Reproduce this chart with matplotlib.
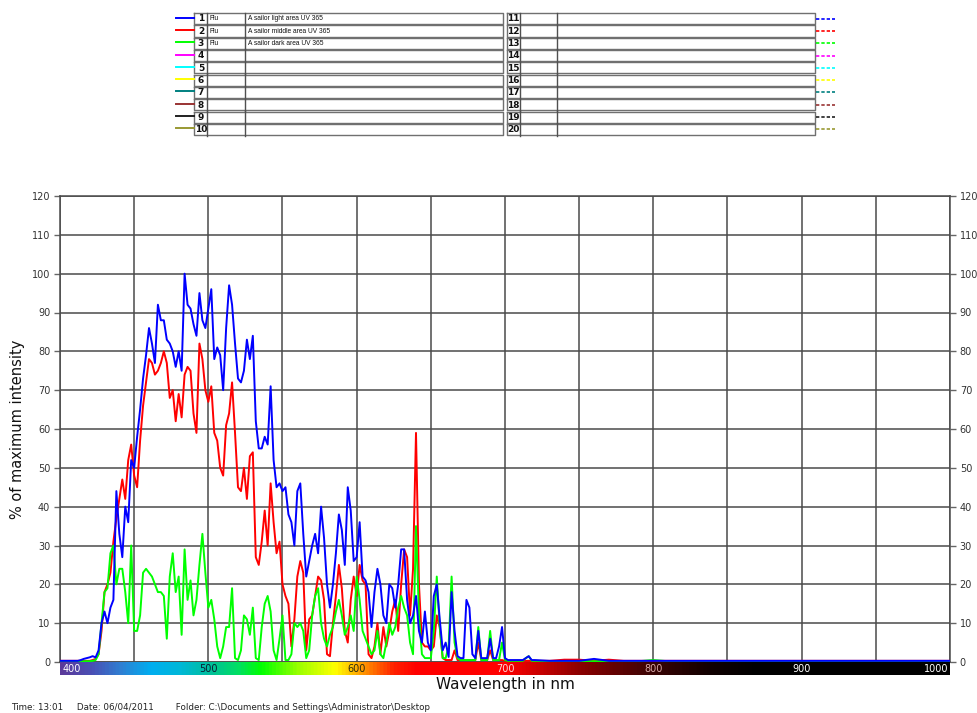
import numpy as np
import matplotlib
matplotlib.use("Agg")
import matplotlib.pyplot as plt
from matplotlib.colors import LinearSegmentedColormap

# ---------------- data ----------------
wavelength = np.arange(400, 721, 2)

light = [0.3, 0.3, 0.3, 0.3, 0.3,
         0.3, 0.3, 0.5, 0.8, 1.0,
         1.2, 1.5, 1.2, 3, 10,
         13, 10, 14, 16, 44,
         33, 27, 40, 36, 52,
         50, 58, 65, 73, 79,
         86, 82, 77, 92, 88,
         88, 83, 82, 80, 76,
         80, 75, 100, 92, 91,
         87, 84, 95, 88, 86,
         91, 96, 78, 81, 79,
         70, 86, 97, 92, 82,
         73, 72, 75, 83, 78,
         84, 62, 55, 55, 58,
         56, 71, 52, 45, 46,
         44, 45, 38, 36, 30,
         44, 46, 33, 22, 26,
         30, 33, 28, 40, 32,
         20, 14, 20, 28, 38,
         34, 25, 45, 39, 26,
         27, 36, 22, 21, 18,
         9, 18, 24, 20, 12,
         10, 20, 19, 14, 20,
         29, 29, 16, 10, 12,
         17, 8, 5, 13, 5,
         3, 17, 20, 11, 3,
         5, 1.3, 18, 8, 1.5,
         1, 1, 16, 14, 2,
         1, 8, 1, 1, 1,
         6, 1, 1, 4, 9,
         1, 0.5, 0.5, 0.5, 0.5,
         0.5, 0.5, 1, 1.5, 0.5,
         0.5]

middle = [0.3, 0.3, 0.3, 0.3, 0.3,
          0.3, 0.3, 0.3, 0.3, 0.3,
          0.3, 0.5, 0.8, 2, 8,
          18, 20, 23, 31, 37,
          42, 47, 42, 52, 56,
          48, 45, 57, 66, 72,
          78, 77, 74, 75, 77,
          80, 77, 68, 70, 62,
          69, 63, 74, 76, 75,
          64, 59, 82, 78, 70,
          67, 71, 59, 57, 50,
          48, 61, 64, 72, 59,
          45, 44, 50, 42, 53,
          54, 27, 25, 31, 39,
          30, 46, 36, 28, 31,
          20, 17, 15, 4, 11,
          22, 26, 23, 3, 11,
          12, 17, 22, 21, 16,
          2, 1.5, 10, 17, 25,
          19, 8, 5, 16, 22,
          17, 25, 21, 20, 2,
          1, 4, 10, 2, 9,
          4, 8, 13, 16, 8,
          20, 29, 27, 12, 24,
          59, 20, 5, 4, 4,
          3, 4, 12, 9, 1,
          0.5, 0.5, 0.5, 3, 0.5,
          0.5, 0.5, 0.5, 0.5, 0.5,
          0.5, 5, 0.5, 0.5, 0.5,
          3, 0.5, 0.5, 0.5, 0.5,
          0.3, 0.3, 0.3, 0.3, 0.3,
          0.3, 0.3, 0.3, 0.3, 0.3,
          0.3]

dark = [0.2, 0.2, 0.2, 0.2, 0.2,
        0.2, 0.2, 0.2, 0.2, 0.2,
        0.2, 0.3, 0.5, 2, 10,
        18, 19, 28, 30, 20,
        24, 24, 18, 10, 30,
        8, 8, 12, 23, 24,
        23, 22, 20, 18, 18,
        17, 6, 22, 28, 18,
        22, 7, 29, 16, 21,
        12, 16, 25, 33, 23,
        14, 16, 11, 4, 1,
        4, 9, 9, 19, 1,
        0.5, 3, 12, 11, 7,
        14, 1, 0.5, 9, 15,
        17, 13, 3, 0.5, 6,
        12, 0.5, 0.5, 2, 10,
        9, 10, 8, 1, 3,
        12, 17, 19, 10, 6,
        4, 7, 9, 13, 16,
        12, 7, 9, 12, 8,
        22, 16, 8, 6, 4,
        2, 3, 8, 2, 1,
        5, 10, 7, 9, 14,
        17, 14, 12, 5, 2,
        35, 12, 2, 1, 1,
        1, 8, 22, 9, 1,
        1, 4, 22, 5, 1,
        0.5, 0.5, 0.5, 0.5, 0.5,
        0.5, 9, 0.5, 0.5, 0.5,
        8, 0.5, 0.5, 0.5, 5,
        0.5, 0.3, 0.3, 0.3, 0.3,
        0.3, 0.3, 1, 1.5, 0.3,
        0.3]

tail_wavelength = [730, 740, 750, 760, 770, 780, 790, 800, 810, 820, 830, 840, 850, 860,
                   870, 880, 890, 900, 910, 920, 930, 940, 950, 960, 970, 980, 990, 1000]
tail_light = [0.3, 0.3, 0.3, 0.8, 0.3, 0.3, 0.3, 0.3, 0.3, 0.3, 0.3, 0.3, 0.3, 0.3,
              0.3, 0.3, 0.3, 0.3, 0.3, 0.3, 0.3, 0.3, 0.3, 0.3, 0.3, 0.3, 0.3, 0.3]
tail_middle = [0.3, 0.6, 0.6, 0.3, 0.6, 0.3, 0.3, 0.3, 0.3, 0.3, 0.3, 0.3, 0.3, 0.3,
               0.3, 0.3, 0.3, 0.3, 0.3, 0.3, 0.3, 0.3, 0.3, 0.3, 0.3, 0.3, 0.3, 0.3]
tail_dark = [0.2, 0.2, 0.2, 0.2, 0.2, 0.2, 0.2, 0.5, 0.2, 0.2, 0.2, 0.2, 0.2, 0.2,
             0.2, 0.2, 0.2, 0.2, 0.2, 0.2, 0.2, 0.2, 0.2, 0.2, 0.2, 0.2, 0.2, 0.2]

series_names = ["A sailor light area UV 365", "A sailor middle area UV 365",
                "A sailor dark area UV 365"]
series_type = ["Flu", "Flu", "Flu"]
slot_colors = ["#0000ff", "#ff0000", "#00ff00", "#ff00ff", "#00ffff",
               "#ffff00", "#008080", "#993333", "#202020", "#999933"]

yticks = list(range(0, 121, 10))
xgrid = list(range(400, 1001, 50))
band_labels = [400, 500, 600, 700, 800, 900, 1000]
band_label_colors = ["white", "#0a1a30", "#2a2a10", "#ffd8d8", "#d8a8a8", "white", "white"]

spectrum_stops = [(400, "#5b3a9a"), (420, "#4a4fb4"), (440, "#2f7fd2"), (460, "#00aef0"),
                  (480, "#00b8d8"), (500, "#00bf9c"), (520, "#00e060"), (535, "#00ff00"),
                  (560, "#9aff00"), (585, "#ffff00"), (605, "#ff9000"), (625, "#ff2000"),
                  (640, "#ff0000"), (700, "#ff0000"), (750, "#8c0000"), (800, "#3a0404"),
                  (840, "#100000"), (870, "#000000"), (1000, "#000000")]

footer = "Time: 13:01     Date: 06/04/2011        Folder: C:\\Documents and Settings\\Administrator\\Desktop"

# ---------------- figure ----------------
W, H = 977, 713
fig = plt.figure(figsize=(W / 100, H / 100), dpi=100)
fig.patch.set_facecolor("white")

def fx(px):
    return px / W

def fy(py):
    return 1 - py / H

left_px, right_px, top_px, bot_px = 60, 950, 196, 662
ax = fig.add_axes([fx(left_px), fy(bot_px), fx(right_px - left_px), (bot_px - top_px) / H])

grid_c = "#4a4a4a"
wl_full = np.concatenate([wavelength, tail_wavelength])
for vals, tail, col, z in [(middle, tail_middle, "#ff0000", 3),
                           (dark, tail_dark, "#00ff00", 4),
                           (light, tail_light, "#0000ff", 5)]:
    ax.plot(wl_full, np.concatenate([vals, tail]), color=col, lw=1.4, zorder=z)

ax.set_xlim(400, 1000)
ax.set_ylim(0, 120)
ax.set_xticks(xgrid)
ax.set_yticks(yticks)
ax.grid(True, color=grid_c, lw=1.1, zorder=1)
ax.set_axisbelow(True)
ax.tick_params(axis="x", bottom=False, labelbottom=False)
ax.tick_params(axis="y", left=True, right=True, labelleft=True, labelright=True,
               length=4, width=1, color="#666666", labelsize=7, labelcolor="#333333", pad=3)
for s in ax.spines.values():
    s.set_color(grid_c)
    s.set_linewidth(1.1)

fig.text(fx(18), fy(429), "% of maximum intensity", rotation=90, ha="center", va="center",
         fontsize=10.5, color="#111111")

# spectrum band
cax = fig.add_axes([fx(left_px), fy(675), fx(right_px - left_px), 13 / H])
pos = [(w - 400) / 600 for w, _ in spectrum_stops]
cmap = LinearSegmentedColormap.from_list("spec", list(zip(pos, [c for _, c in spectrum_stops])))
grad = np.linspace(0, 1, 1200)[None, :]
cax.imshow(grad, aspect="auto", cmap=cmap, extent=[400, 1000, 0, 1])
cax.set_xlim(400, 1000)
cax.set_ylim(0, 1)
cax.axis("off")
for lab, col in zip(band_labels, band_label_colors):
    if lab == 400:
        cax.text(402, 0.45, str(lab), ha="left", va="center", fontsize=7, color=col)
    elif lab == 1000:
        cax.text(999, 0.45, str(lab), ha="right", va="center", fontsize=7, color=col)
    else:
        cax.text(lab, 0.45, str(lab), ha="center", va="center", fontsize=7, color=col)

fig.text(fx(505), fy(685), "Wavelength in nm", ha="center", va="center",
         fontsize=11, color="#111111")
fig.text(fx(11), fy(707), footer, ha="left", va="center", fontsize=6.3, color="#222222")

# ---------------- legend table ----------------
ov = fig.add_axes([0, 0, 1, 1], zorder=-1)
ov.set_xlim(0, W)
ov.set_ylim(H, 0)
ov.axis("off")

row_top0, row_h = 12.5, 12.3
lb = [194, 207, 245, 503]
rb = [507, 520, 557, 815]
tc = "#707070"
for i in range(10):
    t = row_top0 + i * row_h
    b = t + row_h
    cy = t + row_h / 2
    for blk in (lb, rb):
        ov.plot([blk[0], blk[3], blk[3], blk[0], blk[0]], [t + 0.6, t + 0.6, b - 0.6, b - 0.6, t + 0.6],
                color=tc, lw=1.0)
        for xv in blk[1:3]:
            ov.plot([xv, xv], [t, b], color="#505050", lw=1.0)
    ov.plot([176, lb[0]], [cy - 1, cy - 1], color=slot_colors[i], lw=1.4)
    ov.plot([rb[3] + 1, 835], [cy, cy], color=slot_colors[i], lw=1.2, ls=(0, (2, 1.2)))
    ov.text((lb[0] + lb[1]) / 2 + 0.5, cy + 0.3, str(i + 1), ha="center", va="center",
            fontsize=6.5, fontweight="bold", color="#111111")
    ov.text((rb[0] + rb[1]) / 2, cy + 0.3, str(i + 11), ha="center", va="center",
            fontsize=6.5, fontweight="bold", color="#111111")
    if i < len(series_names):
        ov.text(lb[1] + 2.5, cy + 0.3, series_type[i], ha="left", va="center",
                fontsize=4.8, color="#111111", family="Liberation Sans")
        ov.text(lb[2] + 2.5, cy + 0.3, series_names[i], ha="left", va="center",
                fontsize=4.8, color="#111111", family="Liberation Sans")

fig.savefig("out.png", dpi=100, facecolor="white")
